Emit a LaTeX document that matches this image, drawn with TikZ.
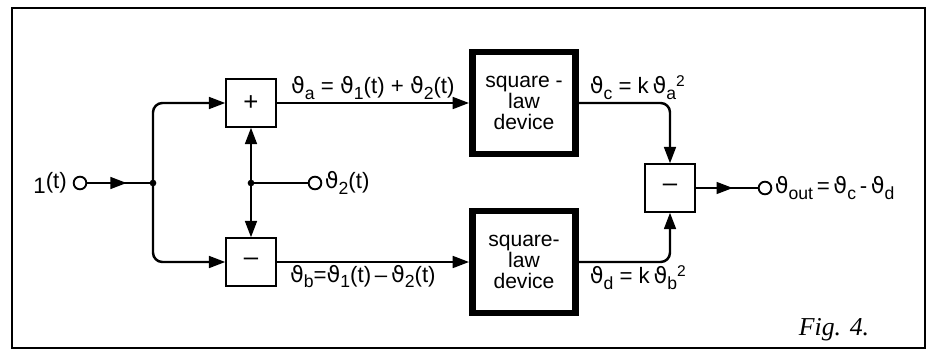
\documentclass[tikz,border=0pt]{standalone}
\usepackage{fontspec}
\setmainfont{Liberation Sans}
\newfontfamily\thfont{DejaVu Sans}
\newfontfamily\figfont{Liberation Serif}
\usetikzlibrary{arrows.meta, positioning, calc, decorations.markings}

\newcommand{\sig}[1]{{\thfont ϑ}\raisebox{-0.45ex}{\fontsize{15}{15}\selectfont #1}}

\tikzset{
    wire/.style={line width=2.1pt},
    arr/.style={wire, -{Triangle[length=14pt, width=10pt]}},
    midarr/.style={wire, decoration={markings, mark=at position 0.6 with {\arrow{Triangle[length=14pt, width=10pt]}}}, postaction={decorate}},
    opbox/.style={draw, line width=1.1pt, minimum width=1.5cm, minimum height=1.44cm, font=\fontsize{22}{22}\selectfont},
    sqbox/.style={draw, line width=5.5pt, minimum width=3.1cm, minimum height=3.05cm, align=center, font=\fontsize{18}{18}\selectfont},
    term/.style={draw, circle, line width=1.6pt, inner sep=0pt, minimum size=0.38cm},
    jdot/.style={fill, circle, inner sep=0pt, minimum size=0.2cm},
    lbl/.style={font=\fontsize{19}{19}\selectfont, inner sep=2pt}
}

\begin{document}
\begin{tikzpicture}[x=0.03cm, y=-0.03cm]
    \useasboundingbox (0,0) rectangle (931,358);
    \draw[line width=1.4pt] (12,8) rectangle (925,348);

    % blocks
    \node (plus) at (251,103) [opbox] {+};
    \node (minus) at (251,262) [opbox] {--};
    \node (sq1) at (524,103) [sqbox] {square -\\law\\device};
    \node (sq2) at (524,262) [sqbox] {square-\\law\\device};
    \node (diff) at (670,188) [opbox] {--};

    % terminals and junctions
    \node (in1) at (80,183) [term] {};
    \node (in2) at (315,183) [term] {};
    \node (out) at (765,188) [term] {};
    \node (j1) at (153,183) [jdot] {};
    \node (j2) at (251,183) [jdot] {};

    \node [lbl, left=0.1cm of in1] {\raisebox{-0.45ex}{1}(t)};
    \node [lbl, right=0pt of in2] {\sig{2}(t)};
    \node [lbl, right=0pt of out] {\sig{out}\,=\,\sig{c}\,-\,\sig{d}};

    % connectors
    \draw [midarr] (in1) -- (j1.center);
    \draw [arr, rounded corners=8pt] (j1.center) |- (plus.west);
    \draw [arr, rounded corners=8pt] (j1.center) |- (minus.west);
    \draw [arr] (j2.center) -- (plus.south);
    \draw [arr] (j2.center) -- (minus.north);
    \draw [wire] (j2.center) -- (in2);
    \draw [arr] (plus) -- node[lbl, above] {\sig{a} = \sig{1}(t) + \sig{2}(t)} (sq1);
    \draw [arr] (minus) -- node[lbl, below, xshift=-0.3cm] {\sig{b}=\sig{1}(t)\,--\,\sig{2}(t)} (sq2);
    \draw [arr, rounded corners=8pt] (sq1) -| node[lbl, pos=0, anchor=south west, xshift=0.22cm] {\sig{c} = k\,\sig{a}\textsuperscript{2}} (diff);
    \draw [arr, rounded corners=8pt] (sq2) -| node[lbl, pos=0, anchor=north west, xshift=0.22cm] {\sig{d} = k\,\sig{b}\textsuperscript{2}} (diff);
    \draw [midarr] (diff) -- (out);

    \node (fig) at (834,330) [font=\figfont\itshape\fontsize{22}{22}\selectfont] {Fig. 4.};
\end{tikzpicture}
\end{document}
